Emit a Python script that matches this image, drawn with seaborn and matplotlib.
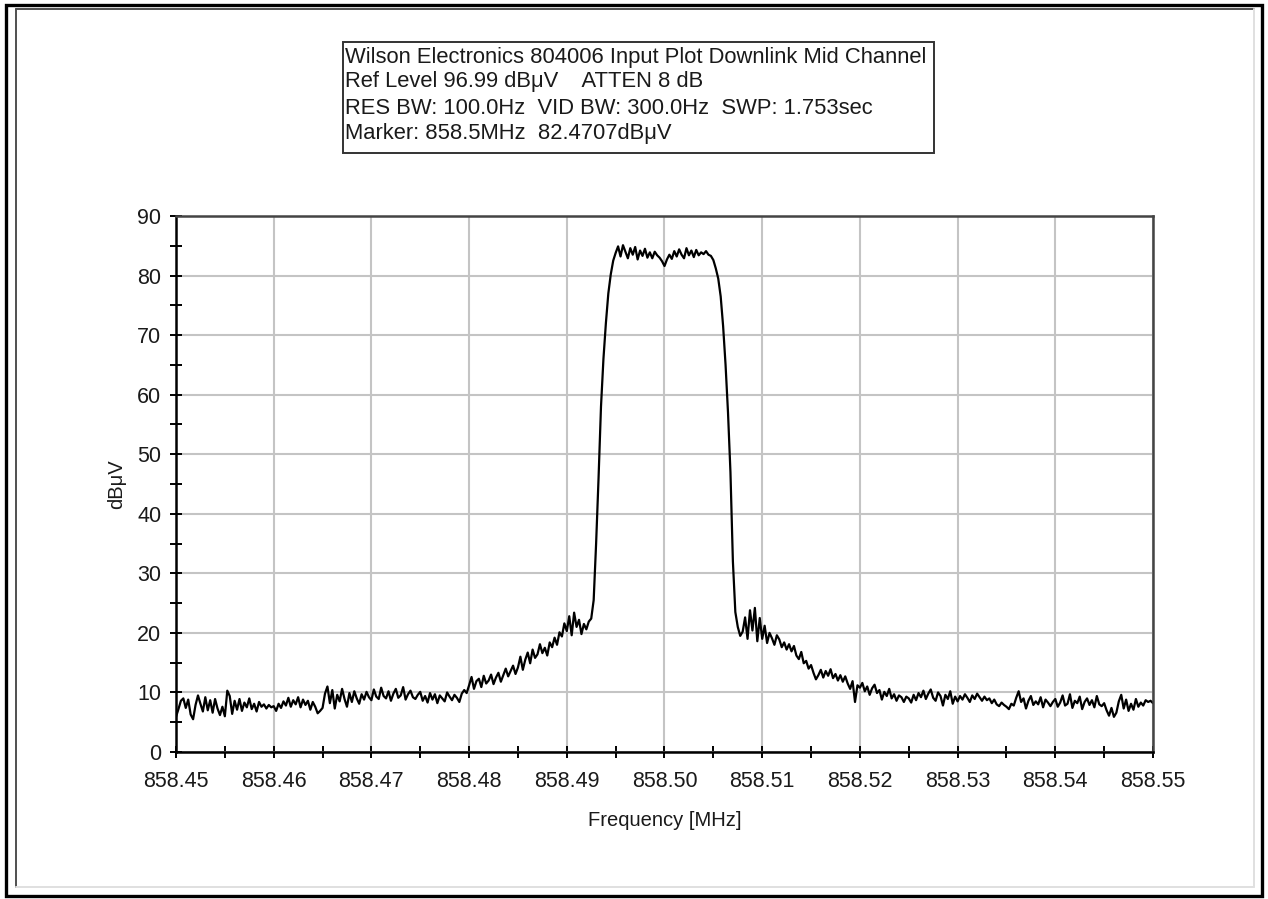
import numpy as np
import pandas as pd
import seaborn as sns
import matplotlib
matplotlib.use("Agg")
import matplotlib.pyplot as plt
from matplotlib.patches import Rectangle
from matplotlib.lines import Line2D
from matplotlib.ticker import FixedLocator, MultipleLocator

# ---------------- data ----------------
freq_start = 858.45
freq_stop = 858.55
n_points = 401
freq_mhz = np.linspace(freq_start, freq_stop, n_points)

level_dbuv = [
    5.9, 7.2, 8.6, 9.0, 7.4, 8.8, 6.3, 5.5, 7.9, 9.5, 8.1, 6.8, 9.2, 7.0, 8.7, 6.6, 8.9, 7.3, 6.2, 7.6,
    6.0, 10.3, 9.4, 6.4, 8.6, 7.1, 8.9, 6.9, 8.3, 7.5, 9.0, 7.2, 8.1, 6.8, 8.4, 7.6, 8.0, 7.3, 7.9, 7.5,
    7.7, 6.9, 8.1, 7.4, 8.5, 7.8, 9.1, 7.6, 8.7, 8.0, 9.2, 7.5, 8.8, 7.9, 8.6, 7.1, 8.4, 7.6, 6.5, 6.9,
    7.4, 9.8, 11.0, 8.2, 10.4, 7.3, 9.6, 8.5, 10.6, 8.9, 7.6, 9.9, 8.4, 10.2, 9.0, 8.1, 9.7, 8.8, 10.1, 9.2,
    8.7, 10.5, 9.3, 8.9, 10.8, 9.4, 9.0, 10.2, 8.6, 9.8, 10.6, 9.1, 9.5, 10.9, 8.8, 9.7, 10.3, 9.2, 8.9, 9.6,
    10.1, 8.6, 9.4, 8.3, 9.9, 8.8, 9.7, 8.2, 9.5, 9.0, 8.5, 10.0, 9.3, 8.7, 9.6, 9.1, 8.4, 9.8, 10.4, 9.9,
    11.2, 12.6, 10.6, 11.9, 12.3, 10.9, 12.8, 11.5, 12.0, 13.0, 11.4, 12.5, 13.3, 11.8, 12.9, 14.0, 12.7, 13.6, 14.5, 13.1,
    14.2, 16.0, 13.8, 15.5, 16.7, 14.9, 17.2, 15.8, 16.4, 18.1, 16.6, 17.5, 16.2, 18.4, 17.6, 19.2, 18.0, 20.1, 19.4, 21.6,
    20.3, 22.8, 19.6, 23.4, 21.0, 22.2, 19.8, 21.5, 20.6, 21.9, 22.4, 25.5, 35.0, 46.0, 58.0, 66.0, 72.0, 77.0, 80.2, 82.5,
    83.8, 84.9, 83.2, 85.1, 84.0, 82.9, 84.6, 83.5, 84.8, 82.7, 84.2, 83.3, 84.5, 83.0, 83.9, 82.9, 84.0, 83.4, 83.0, 82.4,
    81.6, 82.7, 83.5, 82.8, 84.1, 83.2, 84.4, 83.5, 82.9, 84.6, 83.4, 84.2, 83.1, 84.3, 83.4, 83.9, 83.6, 84.1, 83.5, 83.3,
    82.6, 81.2, 79.5, 76.5, 71.5, 65.0, 57.0, 47.0, 32.0, 23.5, 21.0, 19.5, 20.2, 22.6, 19.0, 23.8, 20.4, 24.2, 18.6, 22.5,
    19.0, 21.2, 18.3, 20.0, 19.1, 18.0, 19.6, 18.9, 17.6, 18.4, 17.2, 18.1, 16.9, 17.8, 16.2, 15.6, 16.8, 14.9, 15.3, 14.0,
    14.6, 13.3, 12.2, 12.9, 13.8, 12.5, 13.6, 12.8, 13.9, 12.4, 13.1, 12.0, 12.9, 11.8, 12.7, 11.5, 10.6, 11.9, 8.4, 11.2,
    10.8, 11.6, 10.2, 11.0, 9.6, 10.7, 11.3, 9.9, 10.4, 8.8, 10.1, 9.4, 10.6, 9.0, 9.7, 8.6, 9.5, 9.2, 8.4, 9.3,
    9.0, 8.3, 9.6, 8.7, 9.9, 9.2, 10.3, 8.9, 9.8, 10.5, 9.1, 8.6, 10.0, 9.4, 7.8, 9.6, 8.9, 10.2, 8.1, 9.3,
    8.5, 9.4, 8.8, 9.7, 9.1, 8.4, 9.5, 8.9, 9.8, 9.2, 8.6, 9.3, 8.7, 9.0, 8.2, 8.8, 8.0, 7.7, 8.3, 7.9,
    7.6, 7.2, 8.1, 7.8, 9.1, 10.2, 8.4, 9.0, 7.3, 8.6, 9.4, 7.9, 8.5, 8.0, 9.2, 7.5, 8.8, 8.3, 7.7, 8.4,
    8.9, 7.6, 8.3, 9.5, 7.8, 8.1, 9.7, 7.4, 8.6, 8.2, 9.3, 7.2, 8.4, 9.0, 7.9, 8.7, 7.5, 9.4, 8.0, 7.7,
    8.2, 7.0, 6.1, 7.4, 5.9, 6.6, 8.5, 9.6, 7.3, 8.8, 6.9, 8.1, 7.1, 8.9, 7.6, 8.3, 7.8, 8.7, 8.4, 8.6,
    8.2,
]

x_tick_values = [858.45, 858.46, 858.47, 858.48, 858.49, 858.50,
                 858.51, 858.52, 858.53, 858.54, 858.55]
x_tick_labels = ["858.45", "858.46", "858.47", "858.48", "858.49", "858.50",
                 "858.51", "858.52", "858.53", "858.54", "858.55"]
y_tick_values = [0, 10, 20, 30, 40, 50, 60, 70, 80, 90]

info_lines = [
    "Wilson Electronics 804006 Input Plot Downlink Mid Channel",
    "Ref Level 96.99 dBμV    ATTEN 8 dB",
    "RES BW: 100.0Hz  VID BW: 300.0Hz  SWP: 1.753sec",
    "Marker: 858.5MHz  82.4707dBμV",
]
x_label = "Frequency [MHz]"
y_label = "dBμV"

df = pd.DataFrame({"freq": freq_mhz, "level": level_dbuv})

# ---------------- figure ----------------
sns.set_theme(style="white")
plt.rcParams["font.family"] = ["Liberation Sans", "DejaVu Sans"]

W, H = 1268, 899
fig = plt.figure(figsize=(W / 100, H / 100), dpi=100)
fig.patch.set_facecolor("white")


def fx(px):
    return px / W


def fy(py):
    return 1 - py / H


# outer panel frame
fig.patches.append(Rectangle((fx(6), fy(896)), fx(1262) - fx(6), fy(5) - fy(896),
                             transform=fig.transFigure, fill=False,
                             edgecolor="black", linewidth=2.4, zorder=0))
fig.lines.append(Line2D([fx(16), fx(16)], [fy(887), fy(9)], transform=fig.transFigure,
                        color="#505050", linewidth=1.4))
fig.lines.append(Line2D([fx(16), fx(1254)], [fy(9), fy(9)], transform=fig.transFigure,
                        color="#505050", linewidth=1.4))
fig.lines.append(Line2D([fx(1254), fx(1254)], [fy(887), fy(9)], transform=fig.transFigure,
                        color="#e0e0e0", linewidth=1.4))
fig.lines.append(Line2D([fx(16), fx(1254)], [fy(887), fy(887)], transform=fig.transFigure,
                        color="#e0e0e0", linewidth=1.4))

# info box
fig.patches.append(Rectangle((fx(343), fy(153)), fx(934) - fx(343), fy(42) - fy(153),
                             transform=fig.transFigure, fill=False,
                             edgecolor="#333333", linewidth=1.4, zorder=1))
line_ys = [57, 82, 108, 133]
for txt, yy in zip(info_lines, line_ys):
    fig.text(fx(345), fy(yy), txt, ha="left", va="center", fontsize=15.8, color="#1a1a1a")

# axes
ax = fig.add_axes([fx(176), fy(752), fx(1153) - fx(176), fy(216) - fy(752)])
ax.set_facecolor("white")

sns.lineplot(data=df, x="freq", y="level", ax=ax, color="black",
             linewidth=1.6, estimator=None, sort=False)

ax.set_xlim(freq_start, freq_stop)
ax.set_ylim(0, 90)

ax.xaxis.set_major_locator(FixedLocator(x_tick_values))
ax.set_xticklabels(x_tick_labels)
ax.xaxis.set_minor_locator(MultipleLocator(0.005))
ax.yaxis.set_major_locator(FixedLocator(y_tick_values))
ax.set_yticklabels([str(v) for v in y_tick_values])
ax.yaxis.set_minor_locator(MultipleLocator(5))

ax.grid(True, which="major", color="#c4c4c4", linewidth=1.5)
ax.set_axisbelow(True)

for side in ["left", "bottom"]:
    ax.spines[side].set_color("black")
    ax.spines[side].set_linewidth(1.8)
for side in ["top", "right"]:
    ax.spines[side].set_color("#444444")
    ax.spines[side].set_linewidth(1.8)

ax.tick_params(axis="both", which="both", direction="inout", length=9, width=1.4,
               color="black", labelsize=15.5, labelcolor="#1a1a1a",
               bottom=True, left=True, top=False, right=False)
ax.tick_params(axis="x", which="major", pad=9)
ax.tick_params(axis="y", which="major", pad=6)

ax.set_xlabel(x_label, fontsize=14.5, color="#1a1a1a", labelpad=14)
ax.set_ylabel(y_label, fontsize=14.5, color="#1a1a1a", labelpad=8)

fig.savefig("out.png", dpi=100, facecolor="white")
